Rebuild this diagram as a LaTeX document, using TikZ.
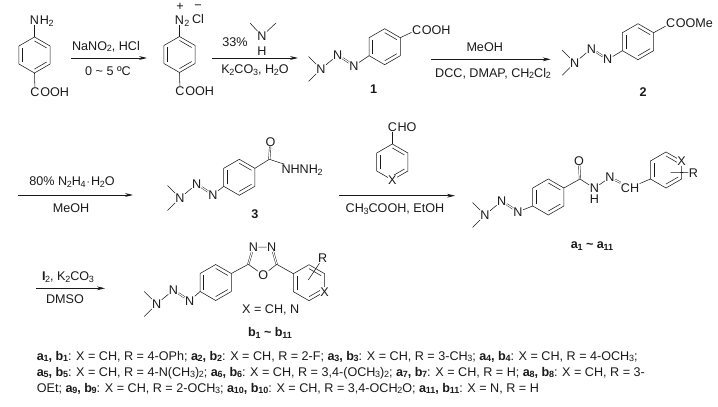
\documentclass[tikz,border=0pt]{standalone}
\usepackage{fontspec}
\setmainfont{Liberation Sans}
\usetikzlibrary{calc,arrows.meta}
\definecolor{ink}{HTML}{1A1A1A}
\newcommand{\low}[1]{\kern-0.3pt\raisebox{-0.28ex}{\fontsize{9}{10}\selectfont #1}}
% benzene ring, vertices clockwise from the top
\newcommand{\phring}[3]{
    \coordinate (#1) at (#2,#3);
    \foreach \i/\a in {1/270,2/330,3/30,4/90,5/150,6/210} {\coordinate (#1-\i) at ($(#1)+(\a:18)$);}
    \draw[bond] (#1-1) -- (#1-2) -- (#1-3) -- (#1-4) -- (#1-5) -- (#1-6) -- cycle;
    \foreach \u/\v in {1/2,3/4,5/6} {\draw[bond] ($(#1)!0.78!(#1-\u)$) -- ($(#1)!0.78!(#1-\v)$);}
}
% Me2N-N=N group, placed by its first nitrogen
\newcommand{\triazene}[3]{
    \node[atom] (#1-n1) at (#2,#3) {N};
    \node[atom] (#1-n2) at ($(#1-n1)+(16.7,-14)$) {N};
    \node[atom] (#1-n3) at ($(#1-n1)+(33,-3.2)$) {N};
    \coordinate (#1-me1) at ($(#1-n1)+(-12.5,-12.5)$);
    \coordinate (#1-me2) at ($(#1-n1)+(-12.5,12.5)$);
    \draw[bond] (#1-me1) -- (#1-n1);
    \draw[bond] (#1-me2) -- (#1-n1);
    \draw[bond] (#1-n1) -- (#1-n2);
    \draw[dbl] (#1-n2) -- (#1-n3);
}
\begin{document}
\begin{tikzpicture}[x=1pt,y=-1pt,
    every node/.style={text=ink,font=\fontsize{12.6}{14}\selectfont},
    atom/.style={inner sep=0.3pt},
    lab/.style={inner sep=0pt},
    bond/.style={draw=ink,line width=0.55pt},
    dbl/.style={draw=ink,double,double distance=1.1pt,line width=0.45pt},
    AR/.style={draw=ink,line width=0.65pt,-{Stealth[length=8pt,width=3.8pt]}}]
    \useasboundingbox (0,0) rectangle (718,407);
    % 4-aminobenzoic acid
    \phring{sm}{34.5}{55}
    \node[atom] (smn) at (34.5,20.5) {N};
    \node[atom,anchor=base west,inner sep=0pt] (smh) at (smn.base east) {H\low{2}};
    \node[atom] (smc) at (35,92) {C};
    \node[atom,anchor=base west,inner sep=0pt] (smo) at (smc.base east) {OOH};
    \draw[bond] (sm-1) -- (smn);
    \draw[bond] (sm-4) -- (smc);
    % diazonium salt
    \phring{dz}{179.5}{54.5}
    \node[atom] (dzn) at (179.5,20) {N};
    \node[atom,anchor=base west,inner sep=0pt] (dzs) at (dzn.base east) {\low{2}};
    \node[lab] (dzcl) at (198,19) {Cl};
    \node[lab] (dzp) at (180,7) {+};
    \node[lab] (dzm) at (198,7) {−};
    \node[atom] (dzc) at (180,91) {C};
    \node[atom,anchor=base west,inner sep=0pt] (dzo) at (dzc.base east) {OOH};
    \draw[bond] (dz-1) -- (dzn);
    \draw[bond] (dz-4) -- (dzc);
    % first two arrows
    \coordinate (ar1s) at (71,58);
    \coordinate (ar1e) at (147,58);
    \draw[AR] (ar1s) -- (ar1e);
    \node[lab] (ar1t) at (106,46.5) {NaNO\low{2}, HCl};
    \node[lab] (ar1b) at (108,71) {0 \textasciitilde{} 5 ºC};
    \coordinate (ar2s) at (212,58);
    \coordinate (ar2e) at (298,58);
    \draw[AR] (ar2s) -- (ar2e);
    \node[lab] (ar2p) at (235,42) {33\%};
    \node[atom] (amn) at (262,36) {N};
    \node[atom] (amh) at (262,51) {H};
    \coordinate (amme1) at (250,23);
    \coordinate (amme2) at (276,23);
    \draw[bond] (amme1) -- (amn);
    \draw[bond] (amme2) -- (amn);
    \node[lab] (ar2b) at (255,70.5) {K\low{2}CO\low{3}, H\low{2}O};
    % compound 1
    \triazene{c1}{321}{69}
    \phring{c1r}{384.7}{46.7}
    \node[atom,anchor=west] (c1c) at (411.5,30) {C};
    \node[atom,anchor=base west,inner sep=0pt] (c1o) at (c1c.base east) {OOH};
    \draw[bond] (c1-n3) -- (c1r-5);
    \draw[bond] (c1r-2) -- (c1c);
    \node[lab] (c1l) at (373.7,89) {\textbf{1}};
    % arrow to 2
    \coordinate (ar3s) at (430.7,59.3);
    \coordinate (ar3e) at (550.7,59.3);
    \draw[AR] (ar3s) -- (ar3e);
    \node[lab] (ar3t) at (484.7,47) {MeOH};
    \node[lab] (ar3b) at (493,73.5) {DCC, DMAP, CH\low{2}Cl\low{2}};
    % compound 2
    \triazene{c2}{574.7}{62.7}
    \phring{c2r}{638}{41.7}
    \node[atom,anchor=west] (c2c) at (665.5,23.5) {C};
    \node[atom,anchor=base west,inner sep=0pt] (c2o) at (c2c.base east) {OOMe};
    \draw[bond] (c2-n3) -- (c2r-5);
    \draw[bond] (c2r-2) -- (c2c);
    \node[lab] (c2l) at (643,91.7) {\textbf{2}};
    % arrow to 3
    \coordinate (ar4s) at (18,195);
    \coordinate (ar4e) at (133,195);
    \draw[AR] (ar4s) -- (ar4e);
    \node[lab] (ar4t) at (72,182.5) {80\% N\low{2}H\low{4}\kern1pt$\cdot$\kern1pt H\low{2}O};
    \node[lab] (ar4b) at (71,208) {MeOH};
    % compound 3
    \triazene{c3}{180}{198}
    \phring{c3r}{239.3}{177.3}
    \coordinate (c3co) at (269.3,159.3);
    \node[atom] (c3ox) at (270.5,141.7) {O};
    \node[atom,anchor=west] (c3nh) at (281,170) {NHNH\low{2}};
    \draw[bond] (c3-n3) -- (c3r-5);
    \draw[bond] (c3r-2) -- (c3co);
    \draw[dbl] (c3co) -- (c3ox);
    \draw[bond] (c3co) -- (c3nh);
    \node[lab] (c3l) at (255,214) {\textbf{3}};
    % aldehyde over the arrow
    \phring{ald}{392.3}{162}
    \node[atom,fill=white,inner sep=0.5pt] (aldx) at (ald-4) {X};
    \node[atom] (aldc) at (392.3,127.3) {C};
    \node[atom,anchor=base west,inner sep=0pt] (aldo) at (aldc.base east) {HO};
    \draw[bond] (ald-1) -- (aldc);
    \coordinate (ar5s) at (339,195.7);
    \coordinate (ar5e) at (455,195.7);
    \draw[AR] (ar5s) -- (ar5e);
    \node[lab] (ar5b) at (395,209.5) {CH\low{3}COOH, EtOH};
    % hydrazones a
    \triazene{ca}{485}{215}
    \phring{car}{548.3}{197}
    \coordinate (caco) at (580,179);
    \node[atom] (caox) at (579,160.7) {O};
    \node[atom] (can1) at (594.3,188.3) {N};
    \node[atom] (cah) at (594.3,199.5) {H};
    \node[atom] (can2) at (610,177.3) {N};
    \node[atom] (cach) at (630,187.7) {CH};
    \phring{cas}{666}{170}
    \node[atom,fill=white,inner sep=0.5pt] (cax) at (cas-2) {X};
    \node[atom] (car) at (693.3,172.7) {R};
    \draw[bond] (ca-n3) -- (car-5);
    \draw[bond] (car-2) -- (caco);
    \draw[dbl] (caco) -- (caox);
    \draw[bond] (caco) -- (can1);
    \draw[bond] (can1) -- (can2);
    \draw[dbl] (can2) -- (cach);
    \draw[bond] (cach) -- (cas-5);
    \coordinate (casb) at (670.7,172.3);
    \draw[bond] (casb) -- (car);
    \node[lab] (cal) at (592,246) {\textbf{a\low{1} \textasciitilde{} a\low{11}}};
    % arrow to b
    \coordinate (ar6s) at (36,288.3);
    \coordinate (ar6e) at (105,288.3);
    \draw[AR] (ar6s) -- (ar6e);
    \node[lab] (ar6t) at (68,277.5) {\textbf{I}\low{2}, K\low{2}CO\low{3}};
    \node[lab] (ar6b) at (65,299) {DMSO};
    % oxadiazoles b
    \triazene{cb}{156.7}{304}
    \phring{cbr}{215.7}{282.5}
    \coordinate (cbc1) at (248.3,264.3);
    \coordinate (cbc2) at (276.7,264.3);
    \node[atom] (cbn1) at (253.3,247.3) {N};
    \node[atom] (cbn2) at (271.7,247) {N};
    \node[atom] (cbo) at (263.3,275) {O};
    \phring{cbs}{309}{282.7}
    \node[atom,fill=white,inner sep=0.5pt] (cbx) at (cbs-3) {X};
    \node[atom] (cbrr) at (322.7,258.3) {R};
    \coordinate (cbsb) at (308.3,280);
    \draw[bond] (cb-n3) -- (cbr-5);
    \draw[bond] (cbr-2) -- (cbc1);
    \draw[dbl] (cbc1) -- (cbn1);
    \draw[bond] (cbn1) -- (cbn2);
    \draw[dbl] (cbn2) -- (cbc2);
    \draw[bond] (cbc1) -- (cbo);
    \draw[bond] (cbc2) -- (cbo);
    \draw[bond] (cbc2) -- (cbs-6);
    \draw[bond] (cbsb) -- (cbrr);
    \node[lab] (cbk) at (270.7,310) {X = CH, N};
    \node[lab] (cbl) at (270,333) {\textbf{b\low{1} \textasciitilde{} b\low{11}}};
    % substituent table
    \node[lab,anchor=base west] (tab1) at (36.7,360) {\textbf{a\low{1}, b\low{1}}: X = CH, R = 4-OPh; \textbf{a\low{2}, b\low{2}}: X = CH, R = 2-F; \textbf{a\low{3}, b\low{3}}: X = CH, R = 3-CH\low{3}; \textbf{a\low{4}, b\low{4}}: X = CH, R = 4-OCH\low{3};};
    \node[lab,anchor=base west] (tab2) at (36.7,376) {\textbf{a\low{5}, b\low{5}}: X = CH, R = 4-N(CH\low{3})\low{2}; \textbf{a\low{6}, b\low{6}}: X = CH, R = 3,4-(OCH\low{3})\low{2}; \textbf{a\low{7}, b\low{7}}: X = CH, R = H; \textbf{a\low{8}, b\low{8}}: X = CH, R = 3-};
    \node[lab,anchor=base west] (tab3) at (36.7,392) {OEt; \textbf{a\low{9}, b\low{9}}: X = CH, R = 2-OCH\low{3}; \textbf{a\low{10}, b\low{10}}: X = CH, R = 3,4-OCH\low{2}O; \textbf{a\low{11}, b\low{11}}: X = N, R = H};
\end{tikzpicture}
\end{document}
